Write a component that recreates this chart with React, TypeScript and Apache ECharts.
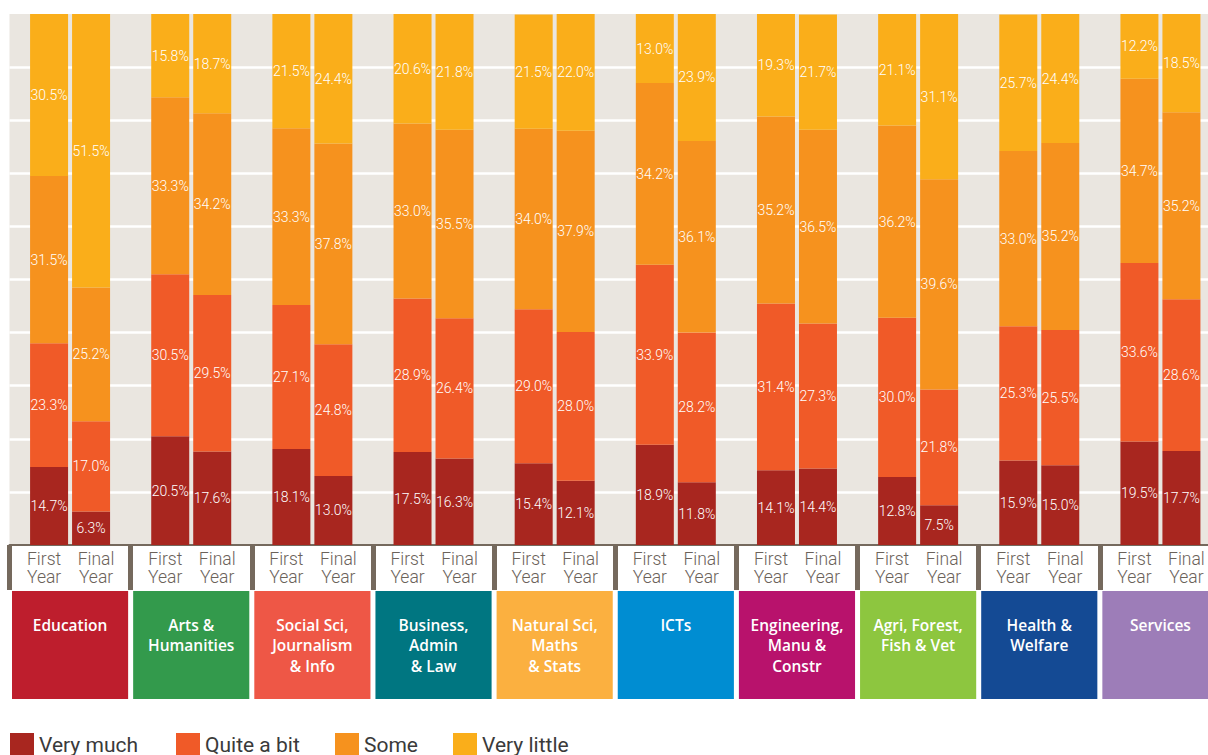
import React, { useEffect, useRef } from "react";
import * as echarts from "echarts";

const categories = [
  "Education",
  "Arts &\nHumanities",
  "Social Sci,\nJournalism\n& Info",
  "Business,\nAdmin\n& Law",
  "Natural Sci,\nMaths\n& Stats",
  "ICTs",
  "Engineering,\nManu &\nConstr",
  "Agri, Forest,\nFish & Vet",
  "Health &\nWelfare",
  "Services",
];
const categoryColors = [
  "#BE1E2D", "#339A4C", "#EE5746", "#007681", "#FBB040",
  "#008DD2", "#B8126C", "#8DC63F", "#144A94", "#9D7DB8",
];
const levels = ["Very much", "Quite a bit", "Some", "Very little"];
const levelColors = ["#A8261F", "#F05A28", "#F6921E", "#FAAE1A"];

// First Year values per level
const firstVeryMuch = [14.7, 20.5, 18.1, 17.5, 15.4, 18.9, 14.1, 12.8, 15.9, 19.5];
const firstQuiteABit = [23.3, 30.5, 27.1, 28.9, 29.0, 33.9, 31.4, 30.0, 25.3, 33.6];
const firstSome = [31.5, 33.3, 33.3, 33.0, 34.0, 34.2, 35.2, 36.2, 33.0, 34.7];
const firstVeryLittle = [30.5, 15.8, 21.5, 20.6, 21.5, 13.0, 19.3, 21.1, 25.7, 12.2];

// Final Year values per level
const finalVeryMuch = [6.3, 17.6, 13.0, 16.3, 12.1, 11.8, 14.4, 7.5, 15.0, 17.7];
const finalQuiteABit = [17.0, 29.5, 24.8, 26.4, 28.0, 28.2, 27.3, 21.8, 25.5, 28.6];
const finalSome = [25.2, 34.2, 37.8, 35.5, 37.9, 36.1, 36.5, 39.6, 35.2, 35.2];
const finalVeryLittle = [51.5, 18.7, 24.4, 21.8, 22.0, 23.9, 21.7, 31.1, 24.4, 18.5];

const firstData = [firstVeryMuch, firstQuiteABit, firstSome, firstVeryLittle];
const finalData = [finalVeryMuch, finalQuiteABit, finalSome, finalVeryLittle];
const legendLefts = [10, 176, 335, 453];

export default function App() {
  const ref = useRef<HTMLDivElement>(null);
  useEffect(() => {
    if (!ref.current) return;
    const chart = echarts.init(ref.current, undefined, { renderer: "svg" });
    const font = "Roboto";
    const barLabel = {
      show: true,
      position: "inside",
      color: "#fff",
      fontSize: 14,
      fontFamily: font,
      fontWeight: 300,
      formatter: (p: any) => Number(p.value).toFixed(1) + "%",
    };
    const barSeries: any[] = [];
    ["first", "final"].forEach((stack, s) => {
      const src = s === 0 ? firstData : finalData;
      levels.forEach((lv, l) => {
        barSeries.push({
          name: lv,
          type: "bar",
          stack,
          data: src[l],
          barWidth: 38,
          barGap: "10.5%",
          itemStyle: { color: levelColors[l] },
          label: barLabel,
        });
      });
    });
    const boxSeries = {
      type: "custom",
      name: "categories",
      silent: true,
      clip: false,
      data: categories.map((_, i) => [i, 0]),
      encode: { x: 0, y: 1 },
      renderItem: (params: any, api: any) => {
        const i = params.dataIndex;
        const cx = api.coord([i, 0])[0];
        const w = api.size([1, 0])[0];
        return {
          type: "group",
          children: [
            {
              type: "rect",
              shape: { x: cx - w / 2 + 2.5, y: 591, width: w - 5, height: 108 },
              style: { fill: categoryColors[i] },
            },
            {
              type: "text",
              style: {
                text: categories[i],
                x: cx,
                y: 614.5,
                fill: "#fff",
                fontSize: 15.5,
                fontWeight: 600,
                fontFamily: "Open Sans",
                align: "center",
                verticalAlign: "top",
                lineHeight: 20.5,
              },
            },
          ],
        };
      },
    };
    chart.setOption({
      animation: false,
      grid: {
        left: 9.5,
        top: 14,
        width: 1211.5,
        height: 531,
        show: true,
        backgroundColor: "#EAE6E0",
        borderWidth: 0,
        containLabel: false,
      },
      legend: levels.map((lv, l) => ({
        data: [lv],
        left: legendLefts[l],
        top: 733,
        padding: 0,
        itemWidth: 24,
        itemHeight: 24,
        icon: "rect",
        selectedMode: false,
        textStyle: { fontSize: 21, fontFamily: font, color: "#3A3A3A" },
      })),
      xAxis: {
        type: "category",
        data: categories,
        axisLine: { show: true, lineStyle: { color: "#75695D", width: 2 } },
        axisTick: { show: true, length: 45, lineStyle: { color: "#75695D", width: 5 } },
        splitLine: { show: false },
        axisLabel: {
          interval: 0,
          margin: 5,
          formatter: () => "{f|First}{f|Final}\n{f|Year}{f|Year}",
          rich: {
            f: {
              width: 52,
              align: "center",
              fontSize: 17.5,
              lineHeight: 18,
              fontFamily: font,
              fontWeight: 300,
              color: "#6B625A",
            },
          },
        },
      },
      yAxis: {
        type: "value",
        min: 0,
        max: 100,
        interval: 10,
        axisLine: { show: false },
        axisTick: { show: false },
        axisLabel: { show: false },
        splitLine: {
          show: true,
          showMinLine: false,
          showMaxLine: false,
          lineStyle: { color: "#FFFFFF", width: 2.5 },
        },
      },
      series: [...barSeries, boxSeries],
    });
    return () => chart.dispose();
  }, []);
  return (
    <div
      style={{
        position: "absolute",
        left: 0,
        top: 0,
        width: 1208,
        height: 755,
        overflow: "hidden",
      }}
    >
      <div ref={ref} style={{ width: 1224, height: 755 }} />
    </div>
  );
}
